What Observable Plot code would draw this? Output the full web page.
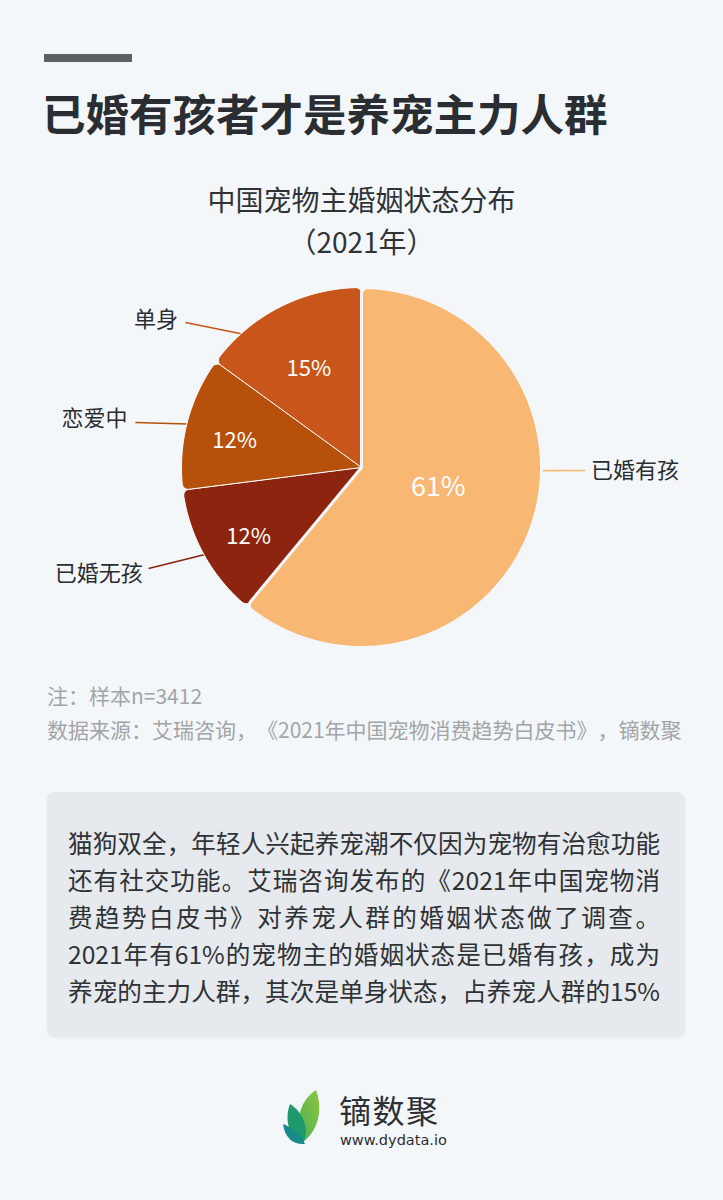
<!DOCTYPE html>
<html><head><meta charset="utf-8">
<script src="https://cdn.jsdelivr.net/npm/d3@7"></script>
<script src="https://cdn.jsdelivr.net/npm/@observablehq/plot@0.6"></script>
<style>
html,body{margin:0;padding:0;}
body{width:723px;height:1200px;background:#f4f7fa;font-family:"Noto Sans CJK SC","Noto Sans",sans-serif;position:relative;overflow:hidden;text-spacing-trim:space-all;}
.abs{position:absolute;}
#bar{left:44px;top:54px;width:88px;height:8px;background:#5d6166;}
#title{left:42px;top:84px;font-size:43.5px;font-weight:700;color:#2a2d31;line-height:58px;white-space:nowrap;}
#ctitle{left:0;width:723px;top:178px;text-align:center;font-size:28px;color:#303336;line-height:42px;}
#chart{left:0;top:270px;}
#notes{left:47px;top:678px;font-size:21px;color:#a2a5a8;line-height:34px;white-space:nowrap;}
#box{left:47px;top:792px;width:638px;height:245px;background:#e6e9ed;border-radius:8px;box-shadow:0 1px 2px rgba(0,0,0,0.05);}
#text{left:68px;top:824px;font-size:24.6px;color:#2f3235;line-height:37px;}
#text div{width:592px;text-align:justify;text-align-last:justify;white-space:nowrap;}
#logo{left:281px;top:1088px;}
#brand{left:339px;top:1091px;font-size:32px;color:#2c2f33;line-height:36px;letter-spacing:1.5px;}
#url{left:340px;top:1132px;font-size:14.5px;color:#2c2f33;font-family:"DejaVu Sans",sans-serif;line-height:16px;}
</style></head>
<body>
<div id="bar" class="abs"></div>
<div id="title" class="abs">已婚有孩者才是养宠主力人群</div>
<div id="ctitle" class="abs">中国宠物主婚姻状态分布<br>（2021年）</div>
<div id="chart" class="abs"></div>
<div id="notes" class="abs">注：样本n=3412<br>数据来源：艾瑞咨询，《2021年中国宠物消费趋势白皮书》，镝数聚</div>
<div id="box" class="abs"></div>
<div id="text" class="abs">
<div>猫狗双全，年轻人兴起养宠潮不仅因为宠物有治愈功能</div>
<div>还有社交功能。艾瑞咨询发布的《2021年中国宠物消</div>
<div>费趋势白皮书》对养宠人群的婚姻状态做了调查。</div>
<div>2021年有61%的宠物主的婚姻状态是已婚有孩，成为</div>
<div>养宠的主力人群，其次是单身状态，占养宠人群的15%</div>
</div>
<svg id="logo" class="abs" width="46" height="58" viewBox="0 0 46 58">
  <defs><linearGradient id="lg" x1="0" y1="1" x2="1" y2="0"><stop offset="0" stop-color="#4fae55"/><stop offset="1" stop-color="#8cc63f"/></linearGradient></defs>
  <path d="M22 54 C13 36 18 13 35 2 C42 20 38 42 22 54 Z" fill="url(#lg)"/>
  <path d="M22 55 C8 50 3 32 9 16 C22 24 29 41 22 55 Z" fill="#1d9a6c"/>
  <path d="M24 56 C12 57 4 50 2 36 C12 40 20 46 24 56 Z" fill="#178a8c"/>
</svg>
<div id="brand" class="abs">镝数聚</div>
<div id="url" class="abs">www.dydata.io</div>
<script>
// ---- data ----
const names = ["已婚有孩", "已婚无孩", "恋爱中", "单身"];
const shares = [61, 12, 12, 15];
const pctLabels = ["61%", "12%", "12%", "15%"];
const colors = ["#f8b874", "#8c2410", "#b6500b", "#c8561a"];

// ---- layout (annotation placement, unit = pie radius) ----
const pctRadius = [0.43, 0.735, 0.716, 0.62];
const pctOffset = [[4, -6], [3, 6], [-2, 6], [-2, 1]];
const pctSize = [27, 22, 22, 22];
const leaderEdgeDeg = [91, 241, 284, 318];
const leaderOuter = [[1.244, -0.017], [-1.183, -0.561], [-1.256, 0.25], [-0.978, 0.806]];
const labelPos = [[1.275, -0.017], [-1.215, -0.594], [-1.30, 0.267], [-1.02, 0.817]];
const labelAnchor = ["start", "end", "end", "end"];

const BG = "#f4f7fa";
const total = d3.sum(shares);
const P = (r, a) => [r * Math.sin(a), r * Math.cos(a)];

// pie angles (clockwise from 12 o'clock)
let acc = 0;
const slices = names.map((name, i) => {
  const a0 = acc / total * 2 * Math.PI;
  acc += shares[i];
  const a1 = acc / total * 2 * Math.PI;
  return {name, i, a0, a1, mid: (a0 + a1) / 2};
});

function cornerArc(C, A, B, n) {
  let p1 = Math.atan2(A[1] - C[1], A[0] - C[0]);
  let p2 = Math.atan2(B[1] - C[1], B[0] - C[0]);
  let d = p2 - p1;
  while (d > Math.PI) d -= 2 * Math.PI;
  while (d < -Math.PI) d += 2 * Math.PI;
  const r = Math.hypot(A[0] - C[0], A[1] - C[1]);
  const out = [];
  for (let k = 0; k <= n; k++) {
    const p = p1 + d * k / n;
    out.push([C[0] + r * Math.cos(p), C[1] + r * Math.sin(p)]);
  }
  return out;
}

function polygon(s, rc) {
  const Rc = 1 - rc, dd = Math.asin(rc / Rc), t = Math.sqrt(Rc * Rc - rc * rc);
  const pts = [[0, 0]];
  pts.push(...cornerArc(P(Rc, s.a0 + dd), P(t, s.a0), P(1, s.a0 + dd), 8));
  const steps = Math.max(8, Math.ceil((s.a1 - s.a0) / 0.01));
  for (let k = 1; k < steps; k++) pts.push(P(1, s.a0 + dd + (s.a1 - s.a0 - 2 * dd) * k / steps));
  pts.push(...cornerArc(P(Rc, s.a1 - dd), P(1, s.a1 - dd), P(t, s.a1), 8));
  return pts.map(([x, y]) => ({name: s.name, x, y}));
}

const rc = 6 / 180;
const smallPts = slices.filter(s => s.i !== 0).flatMap(s => polygon(s, rc));
const bigPts = polygon(slices[0], rc);

const pctData = slices.map(s => {
  const [x, y] = P(pctRadius[s.i], s.mid);
  return {x, y, text: pctLabels[s.i], size: pctSize[s.i], dx: pctOffset[s.i][0], dy: pctOffset[s.i][1]};
});
const leaders = slices.map(s => {
  const [x1, y1] = P(1, leaderEdgeDeg[s.i] * Math.PI / 180);
  return {name: s.name, x1, y1, x2: leaderOuter[s.i][0], y2: leaderOuter[s.i][1]};
});
const labels = slices.map(s => ({name: s.name, x: labelPos[s.i][0], y: labelPos[s.i][1], anchor: labelAnchor[s.i]}));

const font = '"Noto Sans CJK SC","Noto Sans",sans-serif';
const pctMarks = pctData.map(d => Plot.text([d], {x: "x", y: "y", text: "text", fill: "#ffffff", fontSize: d.size, dx: d.dx, dy: d.dy}));
const chart = Plot.plot({
  width: 723, height: 400, margin: 0,
  x: {domain: [-1, 1], range: [181, 541], axis: null},
  y: {domain: [-1, 1], range: [377, 17], axis: null},
  color: {type: "ordinal", domain: names, range: colors},
  style: {background: "transparent", overflow: "visible", fontFamily: font},
  marks: [
    Plot.link(leaders, {x1: "x1", y1: "y1", x2: "x2", y2: "y2", stroke: "name", strokeWidth: 1.6}),
    Plot.line(smallPts, {x: "x", y: "y", z: "name", fill: "name", stroke: "#ffffff", strokeWidth: 1, curve: "linear-closed", strokeLinejoin: "round"}),
    Plot.line(bigPts, {x: "x", y: "y", z: "name", fill: "name", stroke: BG, strokeWidth: 3, curve: "linear-closed", strokeLinejoin: "round"}),
    ...pctMarks,
    Plot.text(labels.filter(d => d.anchor === "start"), {x: "x", y: "y", text: "name", textAnchor: "start", fill: "#2a2d31", fontSize: 22}),
    Plot.text(labels.filter(d => d.anchor === "end"), {x: "x", y: "y", text: "name", textAnchor: "end", fill: "#2a2d31", fontSize: 22})
  ]
});
document.getElementById("chart").appendChild(chart);
</script>
</body></html>
